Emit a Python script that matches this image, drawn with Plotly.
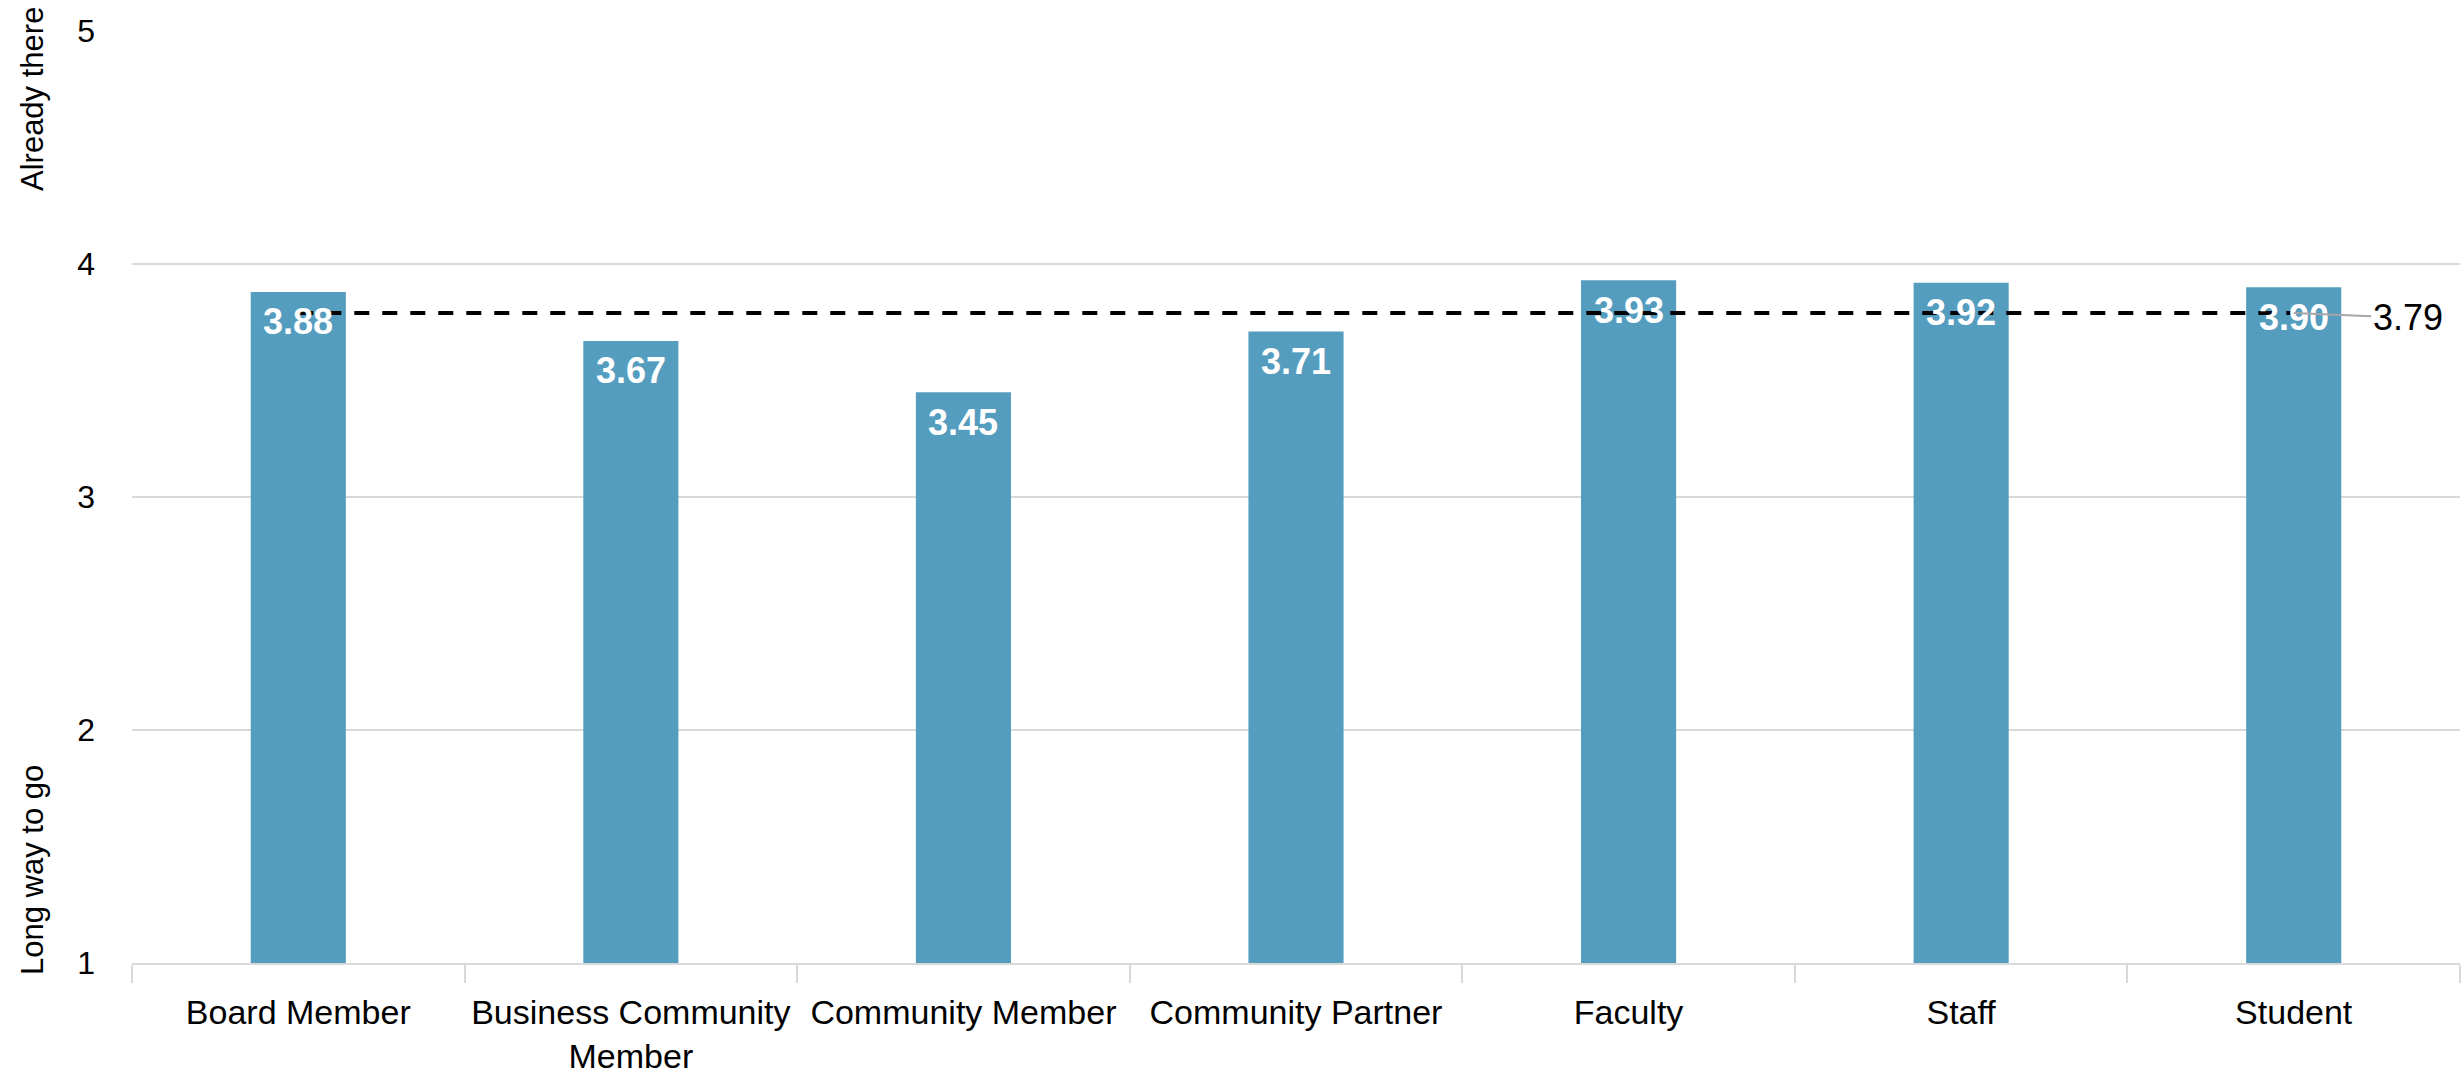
import plotly.graph_objects as go

# Survey roles and their mean scores
categories = ["Board Member", "Business Community Member", "Community Member",
              "Community Partner", "Faculty", "Staff", "Student"]
tick_labels = ["Board Member", "Business Community<br>Member", "Community Member",
               "Community Partner", "Faculty", "Staff", "Student"]
scores = [3.88, 3.67, 3.45, 3.71, 3.93, 3.92, 3.90]
overall_mean = 3.79

y_ticks = [1, 2, 3, 4, 5]
scale_low = "Long way to go"
scale_high = "Already there"

BAR_COLOR = "#559dbf"
GRID = "#d9d9d9"
FONT = "Liberation Sans, Arial, sans-serif"

fig = go.Figure()

fig.add_trace(go.Bar(
    x=categories, y=scores,
    marker=dict(color=BAR_COLOR, line=dict(width=0)),
    hoverinfo="x+y",
))

# Overall average as a dashed reference line
fig.add_trace(go.Scatter(
    x=[categories[0], categories[-1]], y=[overall_mean, overall_mean],
    mode="lines",
    line=dict(color="black", width=4, dash="15px,13px"),
    hoverinfo="skip",
))

annotations = []
for cat, val in zip(categories, scores):
    annotations.append(dict(
        x=cat, y=val, xref="x", yref="y",
        text=f"{val:.2f}", showarrow=False,
        xanchor="center", yanchor="middle", yshift=-30,
        font=dict(family=FONT, size=36, color="white", weight="bold"),
    ))

# Callout for the average value
annotations.append(dict(
    x=categories[-1], y=overall_mean, xref="x", yref="y",
    text=f"{overall_mean:.2f}", showarrow=True,
    arrowhead=0, arrowwidth=2, arrowcolor="#a6a6a6",
    ax=114, ay=5, xanchor="center", yanchor="middle",
    font=dict(family=FONT, size=36, color="black"),
))

# Scale end descriptors on the left
annotations.append(dict(
    x=0, y=(963 - 99) / 932, xref="paper", yref="paper",
    xshift=-100, text=scale_high, textangle=-90, showarrow=False,
    xanchor="center", yanchor="middle",
    font=dict(family=FONT, size=31, color="black"),
))
annotations.append(dict(
    x=0, y=(963 - 870) / 932, xref="paper", yref="paper",
    xshift=-100, text=scale_low, textangle=-90, showarrow=False,
    xanchor="center", yanchor="middle",
    font=dict(family=FONT, size=31, color="black"),
))

fig.update_layout(
    width=2463, height=1082,
    margin=dict(l=132, r=3, t=31, b=119, autoexpand=False),
    paper_bgcolor="white", plot_bgcolor="white",
    showlegend=False,
    bargap=0.714,
    annotations=annotations,
    xaxis=dict(
        tickmode="array", tickvals=categories, ticktext=tick_labels,
        tickangle=0, automargin=False,
        tickson="boundaries", ticks="outside", ticklen=18, tickwidth=2,
        tickcolor=GRID, showline=True, linecolor=GRID, linewidth=2,
        showgrid=False, ticklabelstandoff=18,
        tickfont=dict(family=FONT, size=34, color="black"),
    ),
    yaxis=dict(
        range=[1, 5], tickvals=y_ticks, showgrid=True, gridcolor=GRID,
        gridwidth=2, zeroline=False, showline=False, ticks="",
        ticklabelstandoff=36, automargin=False,
        tickfont=dict(family=FONT, size=32, color="black"),
    ),
)

fig.write_html("out.html")
